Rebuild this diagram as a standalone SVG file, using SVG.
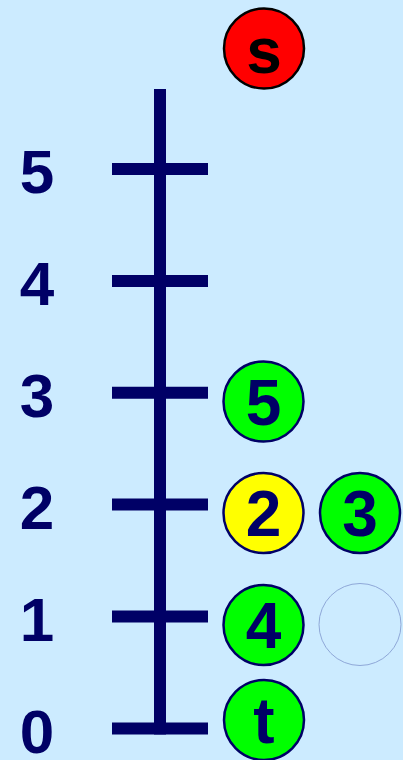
<svg xmlns="http://www.w3.org/2000/svg" width="403" height="760" viewBox="0 0 403 760">
<style>
.bg{fill:#CCEBFF}
.ax{stroke:#000066;stroke-width:12;fill:none}
.lbl{font-family:"Liberation Sans",Arial,sans-serif;font-weight:bold;font-size:62px;fill:#000066;text-anchor:middle}
.nt{font-family:"Liberation Sans",Arial,sans-serif;font-weight:bold;font-size:64px;fill:#000066;text-anchor:middle}
.g{fill:#00FF00;stroke:#000066;stroke-width:2.5}
.y{fill:#FFFF00;stroke:#000066;stroke-width:2.5}
.r{fill:#FF0000;stroke:#000000;stroke-width:2.5}
.e{fill:none;stroke:#8FA8D8;stroke-width:1}
</style>
<rect class="bg" x="0" y="0" width="403" height="760"/>
<g id="axis">
<line class="ax" x1="160" y1="89" x2="160" y2="734.5"/>
<line class="ax" x1="112" y1="169" x2="208" y2="169"/>
<line class="ax" x1="112" y1="281" x2="208" y2="281"/>
<line class="ax" x1="112" y1="392.7" x2="208" y2="392.7"/>
<line class="ax" x1="112" y1="504.6" x2="208" y2="504.6"/>
<line class="ax" x1="112" y1="616.5" x2="208" y2="616.5"/>
<line class="ax" x1="112" y1="728.5" x2="208" y2="728.5"/>
</g>
<g id="labels">
<text class="lbl" x="37" y="193">5</text>
<text class="lbl" x="37" y="305">4</text>
<text class="lbl" x="37" y="417">3</text>
<text class="lbl" x="37" y="529">2</text>
<text class="lbl" x="37" y="641">1</text>
<text class="lbl" x="37" y="753">0</text>
</g>
<g id="node-s"><circle class="r" cx="264" cy="48.5" r="40"/><text class="nt" x="264" y="73" style="fill:#000000">s</text></g>
<g id="node-5"><circle class="g" cx="263.5" cy="401.5" r="40"/><text class="nt" x="263.5" y="425">5</text></g>
<g id="node-2"><circle class="y" cx="263.5" cy="513" r="40"/><text class="nt" x="263.5" y="536">2</text></g>
<g id="node-3"><circle class="g" cx="360" cy="513" r="40"/><text class="nt" x="360" y="536">3</text></g>
<g id="node-4"><circle class="g" cx="263.5" cy="625" r="40"/><text class="nt" x="263.5" y="648">4</text></g>
<g id="node-empty"><circle class="e" cx="360" cy="624.5" r="41"/></g>
<g id="node-t"><circle class="g" cx="264" cy="720" r="40"/><text class="nt" x="264" y="743">t</text></g>
<g id="connectors"></g>
</svg>
